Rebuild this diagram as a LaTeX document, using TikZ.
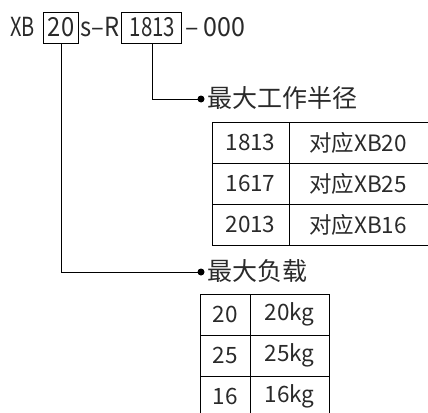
\documentclass[tikz,border=0pt]{standalone}
\usepackage{fontspec}
\setmainfont{Noto Sans CJK SC}
\definecolor{txt}{HTML}{2A2A2A}
\newcommand{\topfont}[2][0.76]{\scalebox{#1}[1.05]{\fontsize{25}{27}\selectfont #2}}
\begin{document}
\begin{tikzpicture}[x=1pt,y=-1pt,
  every node/.style={inner sep=0pt,outer sep=0pt,text=txt},
  top/.style={anchor=base west},
  lab/.style={font=\fontsize{25}{28}\selectfont,anchor=west},
  cell/.style={font=\fontsize{22.5}{25}\selectfont},
  ln/.style={line width=1pt,black},
  dot/.style={circle,fill=black,minimum size=7pt}]
\path[use as bounding box,clip] (0,0) rectangle (428,412);
% top code line
\node[top] (xb) at (10,37) {\topfont[0.8]{XB}};
\draw[ln] (43,13) rectangle (78,44);
\node[anchor=base] (n20) at (61,37) {\topfont[0.95]{20}};
\coordinate (b20) at (61,44);
\node[top] (sr) at (80,37) {\topfont[0.95]{s–R}};
\draw[ln] (121,13) rectangle (181,44);
\node[anchor=base] (n1813) at (152.5,37) {\topfont[0.82]{1813}};
\coordinate (b1813) at (152,44);
\node[top] (tail) at (185,37) {\topfont[1.0]{–\hspace{5pt}000}};
% dots and labels
\node[dot] (d1) at (201,99) {};
\node[lab] (l1) at (207,98) {最大工作半径};
\node[dot] (d2) at (201,272) {};
\node[lab] (l2) at (207,271) {最大负载};
\draw[ln] (b1813) |- (d1);
\draw[ln] (b20) |- (d2);
% table 1
\draw[ln] (212,122) rectangle (440,245);
\draw[ln] (212,163) -- (440,163);
\draw[ln] (212,204) -- (440,204);
\draw[ln] (289,122) -- (289,245);
\node[cell] (a1) at (250.5,142.5) {1813};
\node[cell] (a2) at (250.5,183.5) {1617};
\node[cell] (a3) at (250.5,224.5) {2013};
\node[cell] (b1) at (358,142.5) {对应XB20};
\node[cell] (b2) at (358,183.5) {对应XB25};
\node[cell] (b3) at (358,224.5) {对应XB16};
% table 2
\draw[ln] (200,294) rectangle (329,420);
\draw[ln] (200,335) -- (329,335);
\draw[ln] (200,376) -- (329,376);
\draw[ln] (250,294) -- (250,420);
\node[cell] (c1) at (225,314.5) {20};
\node[cell] (c2) at (225,355.5) {25};
\node[cell] (c3) at (225,396.5) {16};
\node[cell] (e1) at (289.5,314.5) {20kg};
\node[cell] (e2) at (289.5,355.5) {25kg};
\node[cell] (e3) at (289.5,396.5) {16kg};
\end{tikzpicture}
\end{document}
